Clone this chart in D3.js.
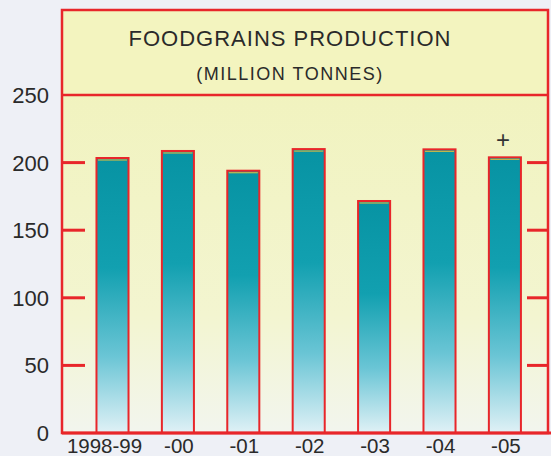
<!DOCTYPE html>
<html>
<head>
<meta charset="utf-8">
<script src="https://cdn.jsdelivr.net/npm/d3@7"></script>
<style>
  body { margin: 0; background: #eef0f6; }
  svg { display: block; }
</style>
</head>
<body>
<svg id="chart" width="551" height="456"></svg>
<script>
// data
var years = ['1998-99', '-00', '-01', '-02', '-03', '-04', '-05'];
var production = [203.4, 208.6, 194.0, 210.0, 171.6, 209.8, 203.9];
var yTicks = [0, 50, 100, 150, 200, 250];
var titleLines = ['FOODGRAINS PRODUCTION', '(MILLION TONNES)'];

var red = '#e8262a';
var svg = d3.select('#chart');
var frameL = 62, frameR = 548, frameT = 10;

var y = d3.scaleLinear().domain([0, 250]).range([433, 95]);
var x = d3.scaleBand().domain(years).range([79.8, 537.6])
  .paddingInner(0.51).paddingOuter(0.255);

var defs = svg.append('defs');
var bg = defs.append('linearGradient').attr('id', 'bg')
  .attr('x1', 0).attr('y1', 0).attr('x2', 0).attr('y2', 1);
bg.append('stop').attr('offset', '0%').attr('stop-color', '#f1f3bf');
bg.append('stop').attr('offset', '65%').attr('stop-color', '#f3f5d0');
bg.append('stop').attr('offset', '100%').attr('stop-color', '#f2f5ee');

var bar = defs.append('linearGradient').attr('id', 'bar')
  .attr('x1', 0).attr('y1', 0).attr('x2', 0).attr('y2', 1);
bar.append('stop').attr('offset', '0%').attr('stop-color', '#0793a3');
bar.append('stop').attr('offset', '40%').attr('stop-color', '#12a0b0');
bar.append('stop').attr('offset', '72%').attr('stop-color', '#6ac5d5');
bar.append('stop').attr('offset', '100%').attr('stop-color', '#e0f1f6');

// plot area + title box
svg.append('rect').attr('x', frameL).attr('y', y(250))
  .attr('width', frameR - frameL).attr('height', y(0) - y(250))
  .attr('fill', 'url(#bg)');
svg.append('rect').attr('x', frameL).attr('y', frameT)
  .attr('width', frameR - frameL).attr('height', y(250) - frameT)
  .attr('fill', '#f3f4bf');

var tx = 290;
svg.append('text').attr('x', tx).attr('y', 46)
  .attr('text-anchor', 'middle').attr('font-family', 'Liberation Sans, Arial')
  .attr('font-size', 22).attr('letter-spacing', 1)
  .attr('fill', '#2a2a2a').text(titleLines[0]);
svg.append('text').attr('x', tx).attr('y', 80)
  .attr('text-anchor', 'middle').attr('font-family', 'Liberation Sans, Arial')
  .attr('font-size', 18).attr('letter-spacing', 1.5)
  .attr('fill', '#2a2a2a').text(titleLines[1]);

// ticks on both sides
var inner = yTicks.filter(function(d){ return d > 0 && d < 250; });
svg.selectAll('.tl').data(inner).enter().append('line')
  .attr('x1', frameL).attr('x2', 85)
  .attr('y1', function(d){ return y(d); }).attr('y2', function(d){ return y(d); })
  .attr('stroke', red).attr('stroke-width', 3);
svg.selectAll('.tr').data(inner).enter().append('line')
  .attr('x1', 527).attr('x2', frameR)
  .attr('y1', function(d){ return y(d); }).attr('y2', function(d){ return y(d); })
  .attr('stroke', red).attr('stroke-width', 3);

// bars
svg.selectAll('.bar').data(production).enter().append('rect')
  .attr('x', function(d, i){ return x(years[i]); })
  .attr('y', function(d){ return y(d); })
  .attr('width', x.bandwidth())
  .attr('height', function(d){ return y(0) - y(d); })
  .attr('fill', 'url(#bar)')
  .attr('stroke', red).attr('stroke-width', 2);
svg.selectAll('.cap').data(production).enter().append('line')
  .attr('x1', function(d, i){ return x(years[i]) + 1.5; })
  .attr('x2', function(d, i){ return x(years[i]) + x.bandwidth() - 1.5; })
  .attr('y1', function(d){ return y(d) + 2; }).attr('y2', function(d){ return y(d) + 2; })
  .attr('stroke', '#c9b84a').attr('stroke-width', 1.2);

// frame
svg.append('rect').attr('x', frameL).attr('y', frameT)
  .attr('width', frameR - frameL).attr('height', y(0) - frameT)
  .attr('fill', 'none').attr('stroke', red).attr('stroke-width', 2.5);
svg.append('line').attr('x1', frameL).attr('x2', frameR)
  .attr('y1', y(250)).attr('y2', y(250))
  .attr('stroke', red).attr('stroke-width', 2.5);
svg.append('line').attr('x1', frameL).attr('x2', frameR + 3)
  .attr('y1', y(0)).attr('y2', y(0))
  .attr('stroke', red).attr('stroke-width', 3);

// y labels
svg.selectAll('.yl').data(yTicks).enter().append('text')
  .attr('x', 49).attr('y', function(d){ return y(d) + 8; })
  .attr('text-anchor', 'end').attr('font-family', 'Liberation Sans, Arial')
  .attr('font-size', 22).attr('fill', '#2a2a2a')
  .text(function(d){ return d; });

// x labels
svg.selectAll('.xl').data(years).enter().append('text')
  .attr('x', function(d){ return x(d) + x.bandwidth() / 2 + (d == '1998-99' ? -8 : 1); })
  .attr('y', 453)
  .attr('text-anchor', 'middle').attr('font-family', 'Liberation Sans, Arial')
  .attr('font-size', 20.5).attr('fill', '#2a2a2a')
  .text(function(d){ return d; });

// provisional mark on last bar
svg.append('text')
  .attr('x', x(years[6]) + x.bandwidth() / 2 - 2).attr('y', y(production[6]) - 9)
  .attr('text-anchor', 'middle').attr('font-family', 'Liberation Sans, Arial')
  .attr('font-size', 24).attr('fill', '#333').text('+');
</script>
</body>
</html>
